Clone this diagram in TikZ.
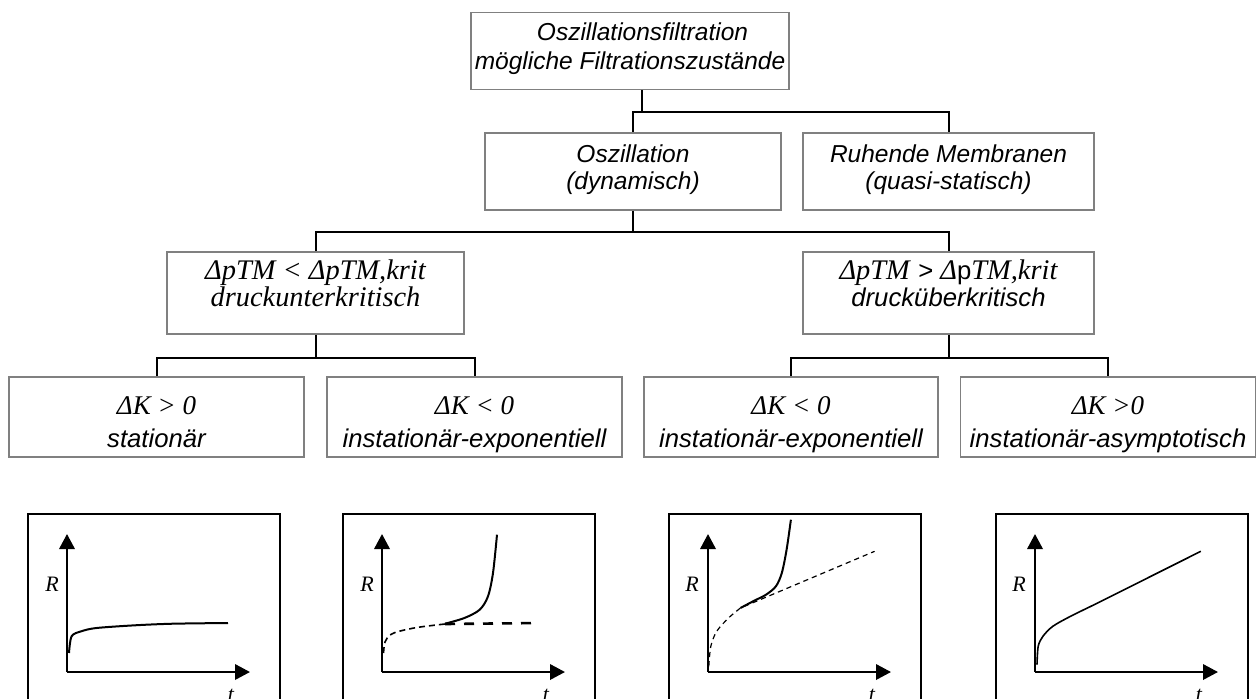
\documentclass[tikz,border=0pt]{standalone}
\usepackage{fontspec}
\setmainfont{Liberation Sans}
\newfontfamily\tnr{Liberation Serif}
\usetikzlibrary{arrows.meta}
\definecolor{boxgray}{RGB}{128,128,128}

\begin{document}
\begin{tikzpicture}[x=0.5pt,y=-0.5pt,
  box/.style 2 args={draw=boxgray, line width=0.9pt, minimum width=#1*0.5pt,
    minimum height=#2*0.5pt, inner sep=0pt},
  conn/.style={draw=black, line width=1pt},
  sans/.style={font=\fontsize{12.25}{14}\selectfont\itshape, inner sep=0pt, anchor=base},
  sansb/.style={font=\fontsize{12.85}{14}\selectfont\itshape, inner sep=0pt, anchor=base},
  serif/.style={font=\tnr\fontsize{14.2}{16}\selectfont\itshape, inner sep=0pt, anchor=base},
  serifk/.style={font=\tnr\fontsize{13.5}{15}\selectfont\itshape, inner sep=0pt, anchor=base},
  frame/.style={draw=black, line width=0.8pt},
  axis/.style={line width=1.1pt, -{Triangle[width=7.7pt,length=7.5pt]}},
  axl/.style={font=\tnr\fontsize{11}{12}\selectfont\itshape, inner sep=0pt},
  curve/.style={line width=1pt},
  thindash/.style={line width=0.8pt, dash pattern=on 3pt off 2pt},
  thickdash/.style={line width=1.3pt, dash pattern=on 5pt off 4.5pt},
  finedash/.style={line width=0.6pt, dash pattern=on 2.6pt off 2pt}]

\useasboundingbox (0,0) rectangle (1259,698);
\clip (0,0) rectangle (1259,698);

% ---------- hierarchy boxes ----------
\node[box={318}{77}] (top) at (630,51) {};
\node[sans] (top1) at (642.5,40) {Oszillationsfiltration};
\node[sans] (top2) at (630,69) {mögliche Filtrationszustände};

\node[box={296}{77.3}] (osz) at (633,171.4) {};
\node[sans] (osz1) at (633,162) {Oszillation};
\node[sans] (osz2) at (633,189) {(dynamisch)};

\node[box={291}{77.3}] (ruh) at (948.5,171.4) {};
\node[sans] (ruh1) at (948.5,162) {Ruhende Membranen};
\node[sans] (ruh2) at (948.5,189) {(quasi-statisch)};

\node[box={297}{82}] (l3a) at (315.5,293) {};
\node[serif] (l3a1) at (315.5,279) {ΔpTM < ΔpTM,krit};
\node[serif] (l3a2) at (315.5,306) {druckunterkritisch};

\node[box={291}{82}] (l3b) at (948.5,293) {};
\node[sansb] (l3b1) at (948.5,279) {{\tnr\fontsize{14.2}{16}\selectfont ΔpTM} \textup{>} {\tnr\fontsize{14.2}{16}\selectfont Δ}\textup{p}{\tnr\fontsize{14.2}{16}\selectfont TM,krit}};
\node[sansb] (l3b2) at (948.5,306) {drucküberkritisch};

\node[box={295}{80}] (l4a) at (156.5,417) {};
\node[serifk] (l4a1) at (156.5,414) {ΔK > 0};
\node[sansb] (l4a2) at (156.5,447) {stationär};

\node[box={295}{80}] (l4b) at (474.5,417) {};
\node[serifk] (l4b1) at (474.5,414) {ΔK < 0};
\node[sansb] (l4b2) at (474.5,447) {instationär-exponentiell};

\node[box={294}{80}] (l4c) at (791,417) {};
\node[serifk] (l4c1) at (791,414) {ΔK < 0};
\node[sansb] (l4c2) at (791,447) {instationär-exponentiell};

\node[box={295}{80}] (l4d) at (1108,417) {};
\node[serifk] (l4d1) at (1108,414) {ΔK >0};
\node[sansb] (l4d2) at (1108,447) {instationär-asymptotisch};

% ---------- connectors ----------
\coordinate (j0) at (642,112);
\coordinate (j1) at (633,231.7);
\coordinate (j2) at (0,357.7);

\draw[conn] (top.south -| j0) -- (j0);
\draw[conn] (osz.north) -- (osz.north |- j0) -- (ruh.north |- j0) -- (ruh.north);

\draw[conn] (osz.south) -- (osz.south |- j1);
\draw[conn] (l3a.north) -- (l3a.north |- j1) -- (l3b.north |- j1) -- (l3b.north);

\draw[conn] (l3a.south) -- (l3a.south |- j2);
\draw[conn] (l4a.north) -- (l4a.north |- j2) -- (l4b.north |- j2) -- (l4b.north);

\draw[conn] (l3b.south) -- (l3b.south |- j2);
\draw[conn] (l4c.north) -- (l4c.north |- j2) -- (l4d.north |- j2) -- (l4d.north);

% ---------- R(t) sketches ----------
% stationary
\begin{scope}[shift={(67,672)}]
  \draw[frame] (-39,40) -- (-39,-158) -- (213,-158) -- (213,40);
  \draw[axis] (0,0) -- (0,-138);
  \draw[axis] (0,0) -- (183,0);
  \node[axl] (r1) at (-15,-88) {R};
  \node[axl, anchor=base] (t1) at (164,29) {t};
  \draw[curve] plot[smooth] coordinates {(2,-19) (4.6,-35.7) (14.2,-40.7) (29.5,-44) (67.8,-46.7) (106,-48.3) (161,-49)};
\end{scope}

% unstable, exponential (below critical pressure)
\begin{scope}[shift={(382,672)}]
  \draw[frame] (-39,40) -- (-39,-158) -- (213,-158) -- (213,40);
  \draw[axis] (0,0) -- (0,-138);
  \draw[axis] (0,0) -- (183,0);
  \node[axl] (r2) at (-15,-88) {R};
  \node[axl, anchor=base] (t2) at (164,29) {t};
  \draw[thindash] plot[smooth] coordinates {(1.5,-19) (3,-30) (8,-37) (17,-40.7) (36,-44.7) (63,-48)};
  \draw[thickdash] (63,-48) -- (157,-49);
  \draw[curve] plot[smooth] coordinates {(63,-48.3) (82.4,-54) (97.7,-62.3) (106,-75.7) (111,-99) (115,-137.3)};
\end{scope}

% unstable, exponential (above critical pressure)
\begin{scope}[shift={(708,672)}]
  \draw[frame] (-39,40) -- (-39,-158) -- (213,-158) -- (213,40);
  \draw[axis] (0,0) -- (0,-138);
  \draw[axis] (0,0) -- (183,0);
  \node[axl] (r3) at (-16,-88) {R};
  \node[axl, anchor=base] (t3) at (164,29) {t};
  \draw[finedash] plot[smooth] coordinates {(0.8,-5.7) (2.8,-25.7) (8.7,-40.7) (20.5,-54) (32.4,-64)} -- (166.6,-120.7);
  \draw[curve] plot[smooth] coordinates {(32.4,-64) (46.2,-71.3) (58,-77.3) (67.9,-85.7) (73.8,-99) (78.6,-122.3) (82.9,-152.3)};
\end{scope}

% unstable, asymptotic
\begin{scope}[shift={(1035,672)}]
  \draw[frame] (-39,40) -- (-39,-158) -- (213,-158) -- (213,40);
  \draw[axis] (0,0) -- (0,-138);
  \draw[axis] (0,0) -- (183,0);
  \node[axl] (r4) at (-16,-88) {R};
  \node[axl, anchor=base] (t4) at (164,29) {t};
  \draw[line width=0.8pt] plot[smooth] coordinates {(2,-7.3) (3.2,-25.7) (7.9,-35.7) (17.8,-45.7) (35.5,-55.7) (59.2,-67.3)} -- (165.8,-120.7);
\end{scope}

\end{tikzpicture}
\end{document}
